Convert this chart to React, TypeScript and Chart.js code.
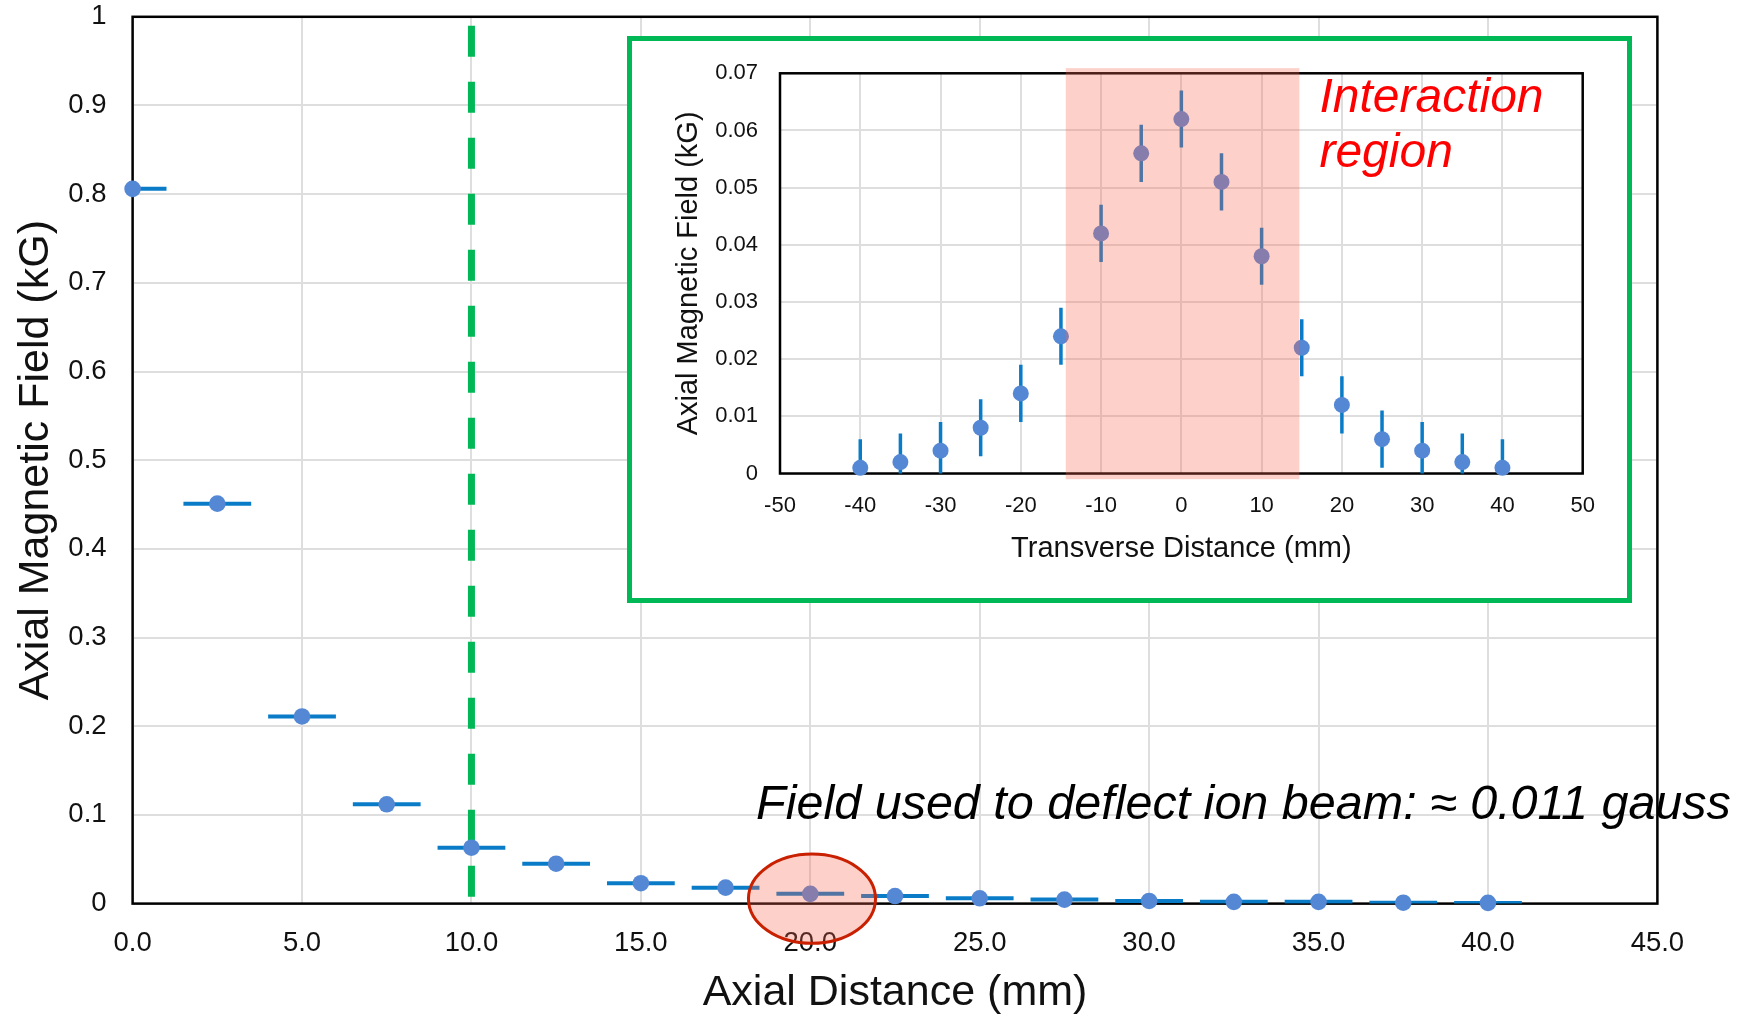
import React, { useEffect, useRef } from 'react';
import { Chart, registerables } from 'chart.js';

Chart.register(...registerables);

const FONT = '"Liberation Sans", Arial, Helvetica, sans-serif';

// ---------- Main chart data ----------
const axialDistance = [0, 2.5, 5, 7.5, 10, 12.5, 15, 17.5, 20, 22.5, 25, 27.5, 30, 32.5, 35, 37.5, 40];
const axialField = [0.806, 0.451, 0.211, 0.112, 0.063, 0.045, 0.023, 0.018, 0.011, 0.0085, 0.006, 0.0045, 0.003, 0.002, 0.002, 0.001, 0.0008];
const axialDistanceErr = [1, 1, 1, 1, 1, 1, 1, 1, 1, 1, 1, 1, 1, 1, 1, 1, 1];
const mainXTicks = [0, 5, 10, 15, 20, 25, 30, 35, 40, 45];
const mainYTicks = [0, 0.1, 0.2, 0.3, 0.4, 0.5, 0.6, 0.7, 0.8, 0.9, 1];

// ---------- Inset chart data ----------
const transverseDistance = [-40, -35, -30, -25, -20, -15, -10, -5, 0, 5, 10, 15, 20, 25, 30, 35, 40];
const transverseField = [0.001, 0.002, 0.004, 0.008, 0.014, 0.024, 0.042, 0.056, 0.062, 0.051, 0.038, 0.022, 0.012, 0.006, 0.004, 0.002, 0.001];
const transverseFieldErr = [0.005, 0.005, 0.005, 0.005, 0.005, 0.005, 0.005, 0.005, 0.005, 0.005, 0.005, 0.005, 0.005, 0.005, 0.005, 0.005, 0.005];
const insetXTicks = [-50, -40, -30, -20, -10, 0, 10, 20, 30, 40, 50];
const insetYTicks = [0, 0.01, 0.02, 0.03, 0.04, 0.05, 0.06, 0.07];

// ---------- Annotations ----------
const cutoffDistance = 10;
const cutoffRange = [0.006, 0.99];
const highlightCenter = [20.05, 0.0055];
const highlightRadius = [1.875, 0.0503];
const fieldNote = 'Field used to deflect ion beam: \u2248 0.011 gauss';
const fieldNotePos = [18.4, 0.095];
const interactionRange = [-14.4, 14.7];
const interactionYRange = [-0.001, 0.0709];
const interactionLabel = ['Interaction', 'region'];
const interactionLabelPos = [17.2, 0.0632, 0.0536];

const MARKER = '#5588d4';
const ERRBAR = '#0a7cc7';
const GREEN = '#00b856';
const GRID = '#dedede';
const TEXT = '#111111';

function framePlugin(width: number) {
  return {
    id: 'frame',
    beforeDatasetsDraw(chart: any) {
      const { ctx, chartArea: a } = chart;
      ctx.save();
      ctx.strokeStyle = '#000';
      ctx.lineWidth = width;
      ctx.strokeRect(a.left, a.top, a.right - a.left, a.bottom - a.top);
      ctx.restore();
    },
  };
}

function errorBarPlugin(xs: number[], ys: number[], xErr: number[] | null, yErr: number[] | null, width: number) {
  return {
    id: 'errorBars',
    beforeDatasetsDraw(chart: any) {
      const { ctx, chartArea: a, scales } = chart;
      const sx = scales.x;
      const sy = scales.y;
      ctx.save();
      ctx.beginPath();
      ctx.rect(a.left, a.top, a.right - a.left, a.bottom - a.top);
      ctx.clip();
      ctx.strokeStyle = ERRBAR;
      ctx.lineWidth = width;
      ctx.lineCap = 'butt';
      xs.forEach((xv, i) => {
        const yv = ys[i];
        ctx.beginPath();
        if (xErr) {
          ctx.moveTo(sx.getPixelForValue(xv - xErr[i]), sy.getPixelForValue(yv));
          ctx.lineTo(sx.getPixelForValue(xv + xErr[i]), sy.getPixelForValue(yv));
        }
        if (yErr) {
          ctx.moveTo(sx.getPixelForValue(xv), sy.getPixelForValue(yv - yErr[i]));
          ctx.lineTo(sx.getPixelForValue(xv), sy.getPixelForValue(yv + yErr[i]));
        }
        ctx.stroke();
      });
      ctx.restore();
    },
  };
}

const cutoffPlugin = {
  id: 'cutoff',
  beforeDatasetsDraw(chart: any) {
    const { ctx, scales } = chart;
    const x = scales.x.getPixelForValue(cutoffDistance);
    ctx.save();
    ctx.strokeStyle = GREEN;
    ctx.lineWidth = 7;
    ctx.setLineDash([31, 25]);
    ctx.beginPath();
    ctx.moveTo(x, scales.y.getPixelForValue(cutoffRange[1]));
    ctx.lineTo(x, scales.y.getPixelForValue(cutoffRange[0]));
    ctx.stroke();
    ctx.restore();
  },
};

const highlightPlugin = {
  id: 'highlight',
  afterDatasetsDraw(chart: any) {
    const { ctx, scales } = chart;
    const sx = scales.x;
    const sy = scales.y;
    const cx = sx.getPixelForValue(highlightCenter[0]);
    const cy = sy.getPixelForValue(highlightCenter[1]);
    const rx = Math.abs(sx.getPixelForValue(highlightCenter[0] + highlightRadius[0]) - cx);
    const ry = Math.abs(sy.getPixelForValue(highlightCenter[1] + highlightRadius[1]) - cy);
    ctx.save();
    ctx.beginPath();
    ctx.ellipse(cx, cy, rx, ry, 0, 0, Math.PI * 2);
    ctx.fillStyle = 'rgba(250, 100, 80, 0.3)';
    ctx.fill();
    ctx.strokeStyle = '#c82000';
    ctx.lineWidth = 3;
    ctx.stroke();
    ctx.font = `italic 48.5px ${FONT}`;
    ctx.fillStyle = '#000';
    ctx.textAlign = 'left';
    ctx.textBaseline = 'alphabetic';
    ctx.fillText(fieldNote, sx.getPixelForValue(fieldNotePos[0]), sy.getPixelForValue(fieldNotePos[1]));
    ctx.restore();
  },
};

const interactionPlugin = {
  id: 'interaction',
  afterDatasetsDraw(chart: any) {
    const { ctx, scales } = chart;
    const sx = scales.x;
    const sy = scales.y;
    const x1 = sx.getPixelForValue(interactionRange[0]);
    const x2 = sx.getPixelForValue(interactionRange[1]);
    const y1 = sy.getPixelForValue(interactionYRange[1]);
    const y2 = sy.getPixelForValue(interactionYRange[0]);
    ctx.save();
    ctx.fillStyle = 'rgba(250, 100, 80, 0.3)';
    ctx.fillRect(x1, y1, x2 - x1, y2 - y1);
    ctx.font = `italic 48px ${FONT}`;
    ctx.fillStyle = '#ff0000';
    ctx.textAlign = 'left';
    ctx.textBaseline = 'alphabetic';
    const lx = sx.getPixelForValue(interactionLabelPos[0]);
    ctx.fillText(interactionLabel[0], lx, sy.getPixelForValue(interactionLabelPos[1]));
    ctx.fillText(interactionLabel[1], lx, sy.getPixelForValue(interactionLabelPos[2]));
    ctx.restore();
  },
};

function fmt2(v: any) {
  return String(Math.round(Number(v) * 1000) / 1000);
}

function fixY(width: number) {
  return (s: any) => {
    s.width = width;
    s.paddingTop = 0;
    s.paddingBottom = 0;
  };
}

function fixX(height: number) {
  return (s: any) => {
    s.height = height;
    s.paddingLeft = 0;
    s.paddingRight = 0;
  };
}

export default function App() {
  const mainRef = useRef<HTMLCanvasElement | null>(null);
  const insetRef = useRef<HTMLCanvasElement | null>(null);

  useEffect(() => {
    const mainChart = new Chart(mainRef.current as HTMLCanvasElement, {
      type: 'scatter',
      data: {
        datasets: [
          {
            data: axialDistance.map((x, i) => ({ x, y: axialField[i] })),
            backgroundColor: MARKER,
            borderWidth: 0,
            pointRadius: 8.3,
            pointHoverRadius: 8.3,
            clip: false as any,
          },
        ],
      },
      options: {
        animation: false,
        responsive: false,
        maintainAspectRatio: false,
        devicePixelRatio: 1,
        layout: { padding: { top: 16.8, right: 89.6, left: 0, bottom: 0 } },
        plugins: { legend: { display: false }, tooltip: { enabled: false } },
        scales: {
          x: {
            type: 'linear',
            min: 0,
            max: 45,
            afterBuildTicks: (s: any) => {
              s.ticks = mainXTicks.map((v) => ({ value: v }));
            },
            afterFit: fixX(113.4),
            grid: { color: GRID, lineWidth: 2, drawTicks: false },
            border: { display: false },
            ticks: {
              padding: 23,
              color: TEXT,
              autoSkip: false,
              maxRotation: 0,
              font: { family: FONT, size: 27.5 },
              callback: (v: any) => Number(v).toFixed(1),
            },
            title: {
              display: true,
              text: 'Axial Distance (mm)',
              color: TEXT,
              font: { family: FONT, size: 43, lineHeight: 1 },
              padding: { top: 0, bottom: 2 },
            },
          },
          y: {
            type: 'linear',
            min: 0,
            max: 1,
            afterBuildTicks: (s: any) => {
              s.ticks = mainYTicks.map((v) => ({ value: v }));
            },
            afterFit: fixY(132.6),
            grid: { color: GRID, lineWidth: 2, drawTicks: false },
            border: { display: false },
            ticks: {
              padding: 26,
              color: TEXT,
              autoSkip: false,
              font: { family: FONT, size: 27.5 },
              callback: (v: any) => fmt2(v),
            },
            title: {
              display: true,
              text: 'Axial Magnetic Field (kG)',
              color: TEXT,
              font: { family: FONT, size: 43, lineHeight: 1 },
              padding: { top: 15, bottom: 0 },
            },
          },
        },
      },
      plugins: [
        framePlugin(2.5),
        cutoffPlugin,
        errorBarPlugin(axialDistance, axialField, axialDistanceErr, null, 4),
        highlightPlugin,
      ],
    } as any);

    const insetChart = new Chart(insetRef.current as HTMLCanvasElement, {
      type: 'scatter',
      data: {
        datasets: [
          {
            data: transverseDistance.map((x, i) => ({ x, y: transverseField[i] })),
            backgroundColor: MARKER,
            borderWidth: 0,
            pointRadius: 8,
            pointHoverRadius: 8,
            clip: false as any,
          },
        ],
      },
      options: {
        animation: false,
        responsive: false,
        maintainAspectRatio: false,
        devicePixelRatio: 1,
        layout: { padding: { top: 32.3, right: 44.3, left: 0, bottom: 0 } },
        plugins: { legend: { display: false }, tooltip: { enabled: false } },
        scales: {
          x: {
            type: 'linear',
            min: -50,
            max: 50,
            afterBuildTicks: (s: any) => {
              s.ticks = insetXTicks.map((v) => ({ value: v }));
            },
            afterFit: fixX(124.5),
            grid: { color: GRID, lineWidth: 2, drawTicks: false },
            border: { display: false },
            ticks: {
              padding: 19,
              color: TEXT,
              autoSkip: false,
              maxRotation: 0,
              font: { family: FONT, size: 22 },
              callback: (v: any) => String(v),
            },
            title: {
              display: true,
              text: 'Transverse Distance (mm)',
              color: TEXT,
              font: { family: FONT, size: 29, lineHeight: 1 },
              padding: { top: 0, bottom: 35 },
            },
          },
          y: {
            type: 'linear',
            min: 0,
            max: 0.07,
            afterBuildTicks: (s: any) => {
              s.ticks = insetYTicks.map((v) => ({ value: v }));
            },
            afterFit: fixY(148),
            grid: { color: GRID, lineWidth: 2, drawTicks: false },
            border: { display: false },
            ticks: {
              padding: 22,
              color: TEXT,
              autoSkip: false,
              font: { family: FONT, size: 22 },
              callback: (v: any) => fmt2(v),
            },
            title: {
              display: true,
              text: 'Axial Magnetic Field (kG)',
              color: TEXT,
              font: { family: FONT, size: 29, lineHeight: 1 },
              padding: { top: 42, bottom: 0 },
            },
          },
        },
      },
      plugins: [
        framePlugin(2.5),
        errorBarPlugin(transverseDistance, transverseField, null, transverseFieldErr, 3.5),
        interactionPlugin,
      ],
    } as any);

    return () => {
      mainChart.destroy();
      insetChart.destroy();
    };
  }, []);

  return (
    <div style={{ position: 'fixed', left: 0, top: 0, width: 1747, height: 1017, background: '#fff', overflow: 'hidden' }}>
      <canvas ref={mainRef} width={1747} height={1017} style={{ position: 'absolute', left: 0, top: 0 }} />
      <div
        style={{
          position: 'absolute',
          left: 627,
          top: 36,
          width: 1005,
          height: 567,
          boxSizing: 'border-box',
          border: `5px solid ${GREEN}`,
          background: '#fff',
        }}
      >
        <canvas ref={insetRef} width={995} height={557} style={{ display: 'block' }} />
      </div>
    </div>
  );
}
